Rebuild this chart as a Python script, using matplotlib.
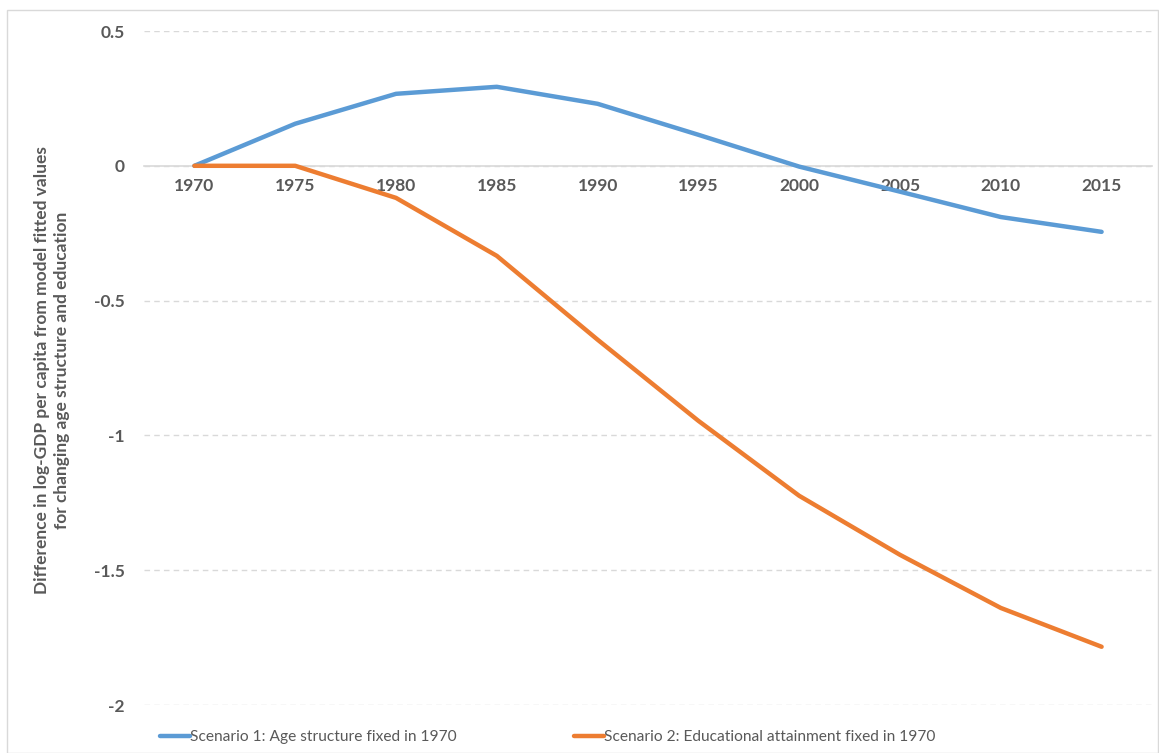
import matplotlib.pyplot as plt
from matplotlib.patches import Rectangle

years = ['1970', '1975', '1980', '1985', '1990', '1995', '2000', '2005', '2010', '2015']
age_fixed = [0.0, 0.156, 0.267, 0.293, 0.230, 0.115, -0.003, -0.096, -0.190, -0.245]
edu_fixed = [0.0, 0.0, -0.119, -0.334, -0.645, -0.946, -1.224, -1.443, -1.640, -1.784]

label_age = 'Scenario 1: Age structure fixed in 1970'
label_edu = 'Scenario 2: Educational attainment fixed in 1970'

plt.rcParams['font.family'] = ['Lato', 'DejaVu Sans']
grey = '#595959'

fig = plt.figure(figsize=(11.59, 7.53), dpi=100)
ax = fig.add_axes([144 / 1159, 1 - 705 / 753, 1008 / 1159, 674 / 753])

x = range(len(years))
ax.plot(x, age_fixed, color='#5B9BD5', lw=3.2, label=label_age, solid_capstyle='round')
ax.plot(x, edu_fixed, color='#ED7D31', lw=3.2, label=label_edu, solid_capstyle='round')

ax.set_xlim(-0.5, len(years) - 0.5)
ax.set_ylim(-2, 0.5)
ax.set_yticks([-2, -1.5, -1, -0.5, 0, 0.5])
ax.set_yticklabels(['-2', '-1.5', '-1', '-0.5', '0', '0.5'])
ax.set_xticks(list(x))
ax.set_xticklabels(years)

ax.grid(axis='y', color='#d9d9d9', linestyle=(0, (4, 3)), lw=1)
ax.set_axisbelow(True)
for s in ['top', 'right', 'left']:
    ax.spines[s].set_visible(False)
ax.spines['bottom'].set_position(('data', 0))
ax.spines['bottom'].set_color('#d9d9d9')
ax.spines['bottom'].set_linewidth(1.2)
ax.spines['bottom'].set_zorder(1)

ax.tick_params(axis='both', length=0, labelsize=12.5, labelcolor=grey)
ax.tick_params(axis='x', pad=9)
ax.tick_params(axis='y', pad=14)
for t in ax.get_xticklabels() + ax.get_yticklabels():
    t.set_fontweight('bold')

fig.text(52 / 1159, 1 - 370 / 753,
         'Difference in log-GDP per capita from model fitted values\nfor changing age structure and education',
         rotation=90, ha='center', va='center', fontsize=12.5, fontweight='bold',
         color=grey, linespacing=1.3)

fig.legend(loc='center left', bbox_to_anchor=(160 / 1159, 1 - 737 / 753), ncol=2,
           frameon=False, borderpad=0, borderaxespad=0,
           fontsize=11.2, handlelength=1.9, handletextpad=0.0, columnspacing=7.6,
           labelcolor=grey)

fig.patches.append(Rectangle((7 / 1159, 0), 1151 / 1159, 1 - 10 / 753,
                             transform=fig.transFigure, fill=False,
                             edgecolor='#d9d9d9', lw=1))

fig.savefig('out.png', dpi=100)
